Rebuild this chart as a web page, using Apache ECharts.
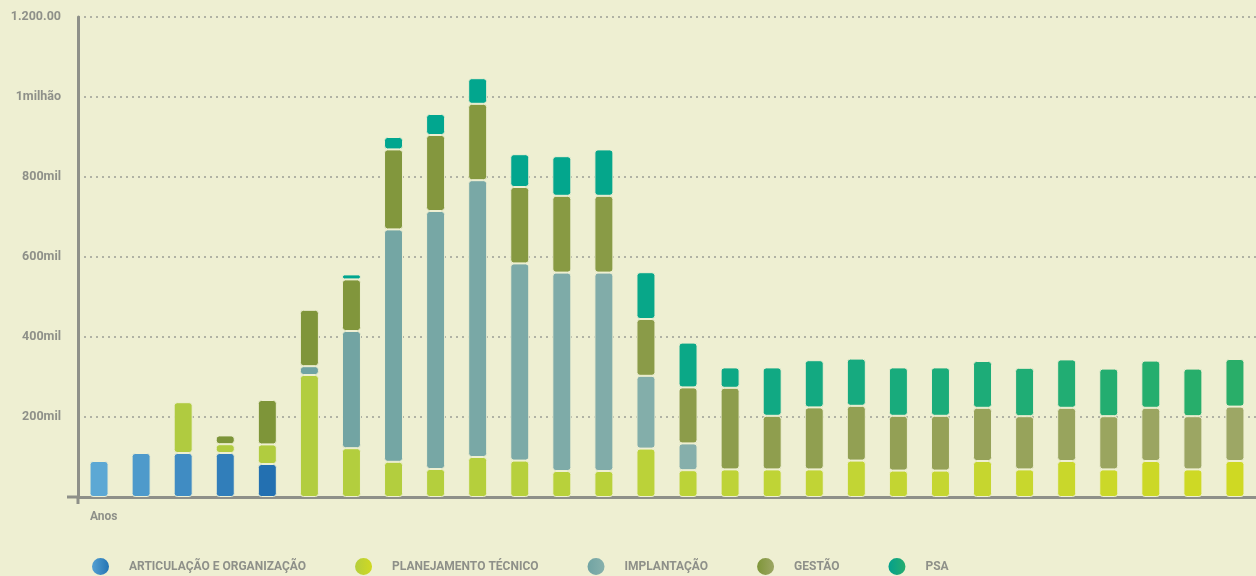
<!DOCTYPE html>
<html><head><meta charset="utf-8">
<script src="https://cdn.jsdelivr.net/npm/echarts@6/dist/echarts.min.js"></script>
<style>html,body{margin:0;padding:0;background:#eeefd2;}#c{width:1256px;height:576px;}</style>
</head><body><div id="c"></div>
<script>
const categories = ['1','2','3','4','5','6','7','8','9','10','11','12','13','14','15','16','17','18','19','20','21','22','23','24','25','26','27','28'];
const seriesNames = ['ARTICULAÇÃO E ORGANIZAÇÃO','PLANEJAMENTO TÉCNICO','IMPLANTAÇÃO','GESTÃO','PSA'];
const articulacao = [90000,110000,110000,110000,82500,null,null,null,null,null,null,null,null,null,null,null,null,null,null,null,null,null,null,null,null,null,null,null];
const planejamento = [null,null,127000,22000,49000,305000,122000,88000,70000,100000,91000,65000,65000,121000,67000,69000,69000,69000,91000,66000,66000,90000,69000,90000,69000,90000,69000,90000];
const implantacao = [null,null,null,null,null,22000,293000,581000,645000,692000,493000,496000,496000,182000,67000,null,null,null,null,null,null,null,null,null,null,null,null,null];
const gestao = [null,null,null,22000,111000,141000,129000,200000,190000,191000,191000,192000,192000,142000,140000,204000,134000,155000,137000,137000,137000,133000,133000,133000,133000,133000,133000,136000];
const psa = [null,null,null,null,null,null,12500,31000,52500,64000,82000,99000,116000,117000,112000,51000,121000,118000,118000,121000,121000,117000,121000,121000,119000,118000,119000,119000];
const yTickValues = [0,200000,400000,600000,800000,1000000,1200000];
const yTickLabels = ['','200mil','400mil','600mil','800mil','1milhão','1.200.00'];

const BG = '#eeefd2';
const GREY = '#8e9089';
const palettes = [
  {from:0,to:4,colors:['#5ca8d4','#2370b1'],legend:['#5aa6d6','#1f6fb0']},
  {from:2,to:27,colors:['#b0cb40','#b4cf3d','#bdd338','#c6d630','#cfd923'],legend:['#b2cd3e','#d3da1f']},
  {from:5,to:14,colors:['#6fa3a2','#86afab'],legend:['#6ea2a2','#8ab2ad']},
  {from:3,to:27,colors:['#7c9438','#85983f','#8d9d4c','#96a259','#9da765'],legend:['#7b9434','#a0a869']},
  {from:6,to:27,colors:['#00a690','#03a68d','#12a982','#1fad76','#29ae69'],legend:['#009f90','#2aae6b']}
];
const values = [articulacao, planejamento, implantacao, gestao, psa];

const chart = echarts.init(document.getElementById('c'), null, {renderer:'canvas'});
const series = values.map((arr, i) => {
  const pal = palettes[i];
  return {
    name: seriesNames[i], type: 'bar', stack: 'total', data: arr, barWidth: 19,
    itemStyle: {
      borderRadius: 3, borderColor: BG, borderWidth: 1,
      color: p => {
        let t = (p.dataIndex - pal.from) / Math.max(1, pal.to - pal.from);
        t = Math.min(1, Math.max(0, t));
        return echarts.color.lerp(t, pal.colors);
      }
    }
  };
});

chart.setOption({
  backgroundColor: BG,
  animation: false,
  title: {text: 'Anos', left: 90, top: 511, padding: 0, textStyle: {fontFamily: 'Roboto', fontWeight: 'bold', fontSize: 12, color: GREY}},
  grid: {left: 78, right: 0, top: 17, bottom: 79, containLabel: false},
  legend: {
    left: 90, top: 556, padding: 0, itemWidth: 19, itemHeight: 19, itemGap: 47, icon: 'circle',
    textStyle: {fontFamily: 'Roboto', fontWeight: 'bold', fontSize: 12, color: GREY, padding: [0,0,0,14]},
    data: seriesNames.map((n, i) => ({
      name: n,
      itemStyle: {color: new echarts.graphic.LinearGradient(0,0,1,0,[{offset:0,color:palettes[i].legend[0]},{offset:1,color:palettes[i].legend[1]}])}
    }))
  },
  xAxis: {
    type: 'category', data: categories,
    axisLine: {show: true, lineStyle: {color: GREY, width: 3}},
    axisTick: {show: false}, axisLabel: {show: false}, splitLine: {show: false}
  },
  yAxis: {
    type: 'value', min: 0, max: 1200000, interval: 200000,
    axisLine: {show: true, lineStyle: {color: GREY, width: 3}},
    axisTick: {show: false},
    axisLabel: {
      margin: 17, fontFamily: 'Roboto', fontWeight: 'bold', fontSize: 12.5, color: GREY,
      formatter: v => { const k = yTickValues.indexOf(v); return k >= 0 ? yTickLabels[k] : ''; }
    },
    splitLine: {show: true, lineStyle: {color: '#9c9e95', width: 1.5, type: [2, 4]}}
  },
  series: series
});

const rect = chart.getModel().getComponent('grid').coordinateSystem.getRect();
const y0 = chart.convertToPixel({yAxisIndex: 0}, 0);
chart.setOption({
  graphic: [
    {type: 'line', shape: {x1: rect.x - 11, y1: y0, x2: rect.x, y2: y0}, style: {stroke: GREY, lineWidth: 3}, z: 10},
    {type: 'line', shape: {x1: rect.x, y1: y0, x2: rect.x, y2: y0 + 7}, style: {stroke: GREY, lineWidth: 3}, z: 10}
  ]
});
</script></body></html>
